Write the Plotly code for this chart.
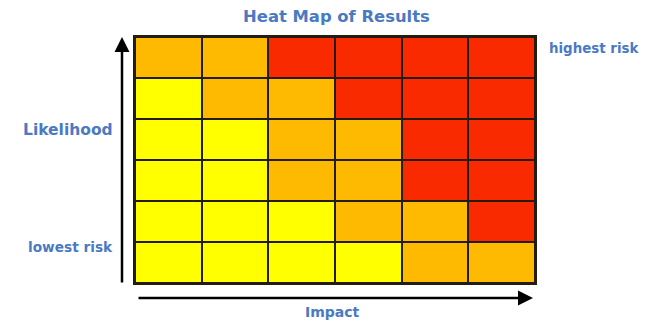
import plotly.graph_objects as go

# Risk levels: 0 = low (yellow), 1 = medium (orange), 2 = high (red)
impact_cols = [1, 2, 3, 4, 5, 6]
likelihood_rows = [1, 2, 3, 4, 5, 6]  # bottom to top
risk_levels = [
    [0, 0, 0, 0, 1, 1],  # row 1 (bottom)
    [0, 0, 0, 1, 1, 2],
    [0, 0, 1, 1, 2, 2],
    [0, 0, 1, 1, 2, 2],
    [0, 1, 1, 2, 2, 2],
    [1, 1, 2, 2, 2, 2],  # row 6 (top)
]
title_text = "Heat Map of Results"
y_label = "Likelihood"
low_label = "lowest risk"
high_label = "highest risk"
x_label = "Impact"

YELLOW = "#FFFF00"
ORANGE = "#FDBA00"
RED = "#FA2A00"
BLUE = "#4A7AC2"
LINE = "#231c10"

colorscale = [
    [0.0, YELLOW], [0.3333, YELLOW],
    [0.3333, ORANGE], [0.6667, ORANGE],
    [0.6667, RED], [1.0, RED],
]

fig = go.Figure(
    go.Heatmap(
        x=impact_cols,
        y=likelihood_rows,
        z=risk_levels,
        colorscale=colorscale,
        zmin=0,
        zmax=2,
        showscale=False,
        xgap=2,
        ygap=2,
        hoverinfo="skip",
    )
)

font_family = "DejaVu Sans"

def lab_font(size):
    return dict(family=font_family, size=size, color=BLUE)

annotations = [
    dict(text="<b>" + y_label + "</b>", x=-0.05, y=0.622, xref="paper", yref="paper",
         xanchor="right", yanchor="middle", showarrow=False, font=lab_font(15.5)),
    dict(text="<b>" + low_label + "</b>", x=-0.05, y=0.146, xref="paper", yref="paper",
         xanchor="right", yanchor="middle", showarrow=False, font=lab_font(13.7)),
    dict(text="<b>" + high_label + "</b>", x=1.03, y=0.955, xref="paper", yref="paper",
         xanchor="left", yanchor="middle", showarrow=False, font=lab_font(13.4)),
    dict(text="<b>" + x_label + "</b>", x=0.4925, y=-0.118, xref="paper", yref="paper",
         xanchor="center", yanchor="middle", showarrow=False, font=lab_font(14)),
    # vertical arrow (Likelihood axis)
    dict(text="", x=-0.0325, y=1.0, xref="paper", yref="paper",
         showarrow=True, ax=0, ay=247, axref="pixel", ayref="pixel",
         arrowhead=2, arrowsize=1.2, arrowwidth=2.5, arrowcolor="black"),
    # horizontal arrow (Impact axis)
    dict(text="", x=0.995, y=-0.061, xref="paper", yref="paper",
         showarrow=True, ax=-396, ay=0, axref="pixel", ayref="pixel",
         arrowhead=2, arrowsize=1.2, arrowwidth=2.5, arrowcolor="black"),
]

fig.update_layout(
    width=654,
    height=320,
    margin=dict(l=135, r=119, t=37, b=37),
    paper_bgcolor="white",
    plot_bgcolor=LINE,
    title=dict(text="<b>" + title_text + "</b>", x=0.5145, xanchor="center",
               y=0.95, yanchor="middle", yref="container",
               font=dict(family=font_family, size=16.4, color=BLUE)),
    xaxis=dict(range=[0.5, 6.5], showticklabels=False, ticks="", showgrid=False,
               zeroline=False, showline=True, linecolor=LINE, linewidth=2, mirror=True,
               fixedrange=True),
    yaxis=dict(range=[0.5, 6.5], showticklabels=False, ticks="", showgrid=False,
               zeroline=False, showline=True, linecolor=LINE, linewidth=2, mirror=True,
               fixedrange=True),
    annotations=annotations,
    showlegend=False,
)

fig.write_html(
    "out.html",
    config={"displayModeBar": False},
    post_script="document.body.style.margin='0';document.body.style.overflow='hidden';",
)
